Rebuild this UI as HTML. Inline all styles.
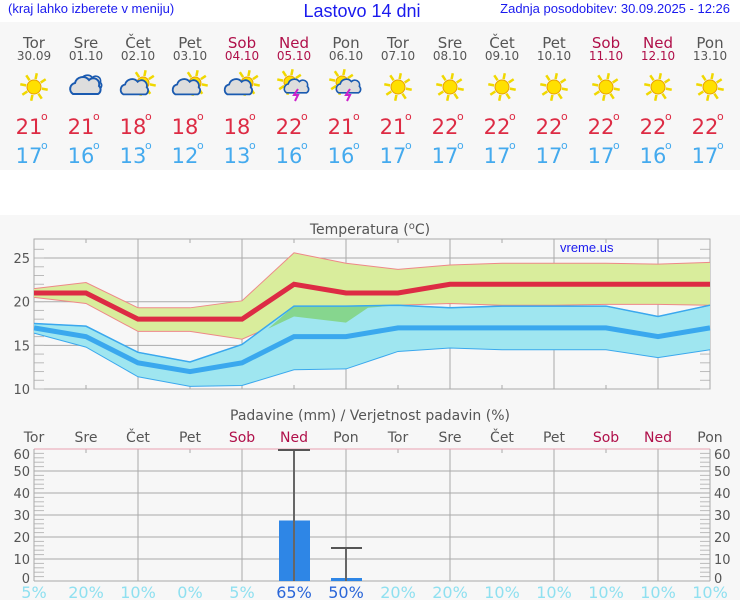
<!DOCTYPE html>
<html><head><meta charset="utf-8"><style>
body{margin:0;width:740px;height:600px;background:#f7f7f7;overflow:hidden;font-family:"DejaVu Sans","Liberation Sans",sans-serif}
svg{position:absolute;left:0;top:0}
</style></head><body>
<svg id="s" width="740" height="600" xmlns="http://www.w3.org/2000/svg"></svg>
<script>
const s=document.getElementById('s');let h='';
h+='<rect x="0" y="0" width="740" height="22" fill="#fff"/><rect x="0" y="170" width="740" height="45" fill="#fff"/>';
h+='<text x="8" y="13" font-size="13" fill="#1a1aee" font-family="Liberation Sans">(kraj lahko izberete v meniju)</text>';
h+='<text x="362" y="17" font-size="18" fill="#1a1aee" text-anchor="middle" font-family="Liberation Sans">Lastovo 14 dni</text>';
h+='<text x="730" y="13" font-size="13" fill="#1a1aee" text-anchor="end" font-family="Liberation Sans">Zadnja posodobitev: 30.09.2025 - 12:26</text>';
const days=['Tor','Sre','Čet','Pet','Sob','Ned','Pon','Tor','Sre','Čet','Pet','Sob','Ned','Pon'];
const dates=['30.09','01.10','02.10','03.10','04.10','05.10','06.10','07.10','08.10','09.10','10.10','11.10','12.10','13.10'];
const mx=[21,21,18,18,18,22,21,21,22,22,22,22,22,22],mn=[17,16,13,12,13,16,16,17,17,17,17,17,16,17];
const ic=['s','c','pc','ps','pc','t','t','s','s','s','s','s','s','s'];
const X=i=>34+i*52;
function sun(cx,cy,r){let o='';for(let k=0;k<8;k++){const a=k*Math.PI/4+0.2;o+=`<line x1="${cx+Math.cos(a)*(r+1)}" y1="${cy+Math.sin(a)*(r+1)}" x2="${cx+Math.cos(a)*(r+7)}" y2="${cy+Math.sin(a)*(r+7)}" stroke="#f0d800" stroke-width="2.5"/>`;}return o+`<circle cx="${cx}" cy="${cy}" r="${r}" fill="#ffe000" stroke="#e8a000" stroke-width="1"/>`;}
function cloud(cx,cy,sc){return `<g transform="translate(${cx},${cy}) scale(${sc})"><path d="M-13,6 a6,6 0 0 1 2,-11 a8,8 0 0 1 14,-3 a6,6 0 0 1 10,6 a5,5 0 0 1 -1,8 z" fill="#ddd" stroke="#1a5ab0" stroke-width="2"/></g>`;}
for(let i=0;i<14;i++){const x=X(i);const col=(i==4||i==5||i==11||i==12)?'#b0104a':'#555';
h+=`<text x="${x}" y="48" font-size="15" fill="${col}" text-anchor="middle">${days[i]}</text>`;
h+=`<text x="${x}" y="60" font-size="12" fill="${col}" text-anchor="middle">${dates[i]}</text>`;
const t=ic[i],cy=87;
if(t=='s')h+=sun(x,cy,7);
if(t=='c'){h+=cloud(x+4,cy-3,0.8)+cloud(x,cy+1,1);}
if(t=='pc'||t=='ps'){h+=sun(x+5,cy-4,6)+cloud(x-3,cy+2,0.9);}
if(t=='t'){h+=sun(x-4,cy-5,6)+cloud(x+3,cy+1,0.8)+`<path d="M${x+4},${cy+2} l-4,6 h4 l-3,6" stroke="#cc22cc" stroke-width="2" fill="none"/>`;}
h+=`<text x="${x-5}" y="134" font-size="21" fill="#dd2b44" text-anchor="middle">${mx[i]}</text><text x="${x+7}" y="120" font-size="11" fill="#dd2b44">o</text>`;
h+=`<text x="${x-5}" y="163" font-size="21" fill="#44aaee" text-anchor="middle">${mn[i]}</text><text x="${x+7}" y="149" font-size="11" fill="#44aaee">o</text>`;}
h+='<text x="370" y="234" font-size="14" fill="#555" text-anchor="middle">Temperatura (<tspan dy="-5" font-size="10">o</tspan><tspan dy="5">C)</tspan></text>';
const Y=T=>301.7-(T-20)*8.73;
h+='<rect x="34" y="239" width="676" height="150" fill="none" stroke="#aaa"/>';
[10,15,20,25].forEach(t=>{h+=`<line x1="34" x2="710" y1="${Y(t)}" y2="${Y(t)}" stroke="#aaa"/><text x="30" y="${Y(t)+5}" font-size="13" fill="#555" text-anchor="end">${t}</text>`;});
for(let t=10;t<=26;t++){h+=`<line x1="34" x2="44" y1="${Y(t)}" y2="${Y(t)}" stroke="#bbb"/><line x1="700" x2="710" y1="${Y(t)}" y2="${Y(t)}" stroke="#bbb"/>`;}
for(let i=0;i<14;i++){if(i%2==0||i==13)h+=`<line x1="${X(i)}" x2="${X(i)}" y1="239" y2="389" stroke="#aaa"/>`;else h+=`<line x1="${X(i)}" x2="${X(i)}" y1="239" y2="243" stroke="#aaa"/><line x1="${X(i)}" x2="${X(i)}" y1="385" y2="389" stroke="#aaa"/>`;}
const mU=[21.5,22.2,19.3,19.3,20.1,25.6,24.4,23.7,24.2,24.4,24.4,24.4,24.3,24.5],mL=[20.5,19.8,16.6,16.6,15.7,18.3,17.6,19.6,19.8,19.6,19.6,19.7,19.7,19.6];
const nU=[17.5,17.2,14.2,13.1,15.1,19.5,19.5,19.6,19.3,19.5,19.5,19.5,18.3,19.6],nL=[16.4,14.8,11.4,10.3,10.4,12.2,12.3,14.3,14.7,14.5,14.5,14.5,13.6,14.5];
const band=(U,L,f,st)=>{let p=U.map((v,i)=>`${X(i)},${Y(v)}`).join(' ')+' '+L.map((v,i)=>`${X(i)},${Y(v)}`).reverse().join(' ');return `<polygon points="${p}" fill="${f}"/><polyline points="${U.map((v,i)=>X(i)+','+Y(v)).join(' ')}" fill="none" stroke="${st}" stroke-width="1"/><polyline points="${L.map((v,i)=>X(i)+','+Y(v)).join(' ')}" fill="none" stroke="${st}" stroke-width="1"/>`;};
h+=band(mU,mL,'#d9ed9c','#e88');
h+=band(nU,nL,'#9fe6f0','#3aa8ee');
h+=`<polygon points="${X(4)+26},${Y(16.9)} ${X(5)},${Y(19.5)} ${X(6)},${Y(19.5)} ${X(7)},${Y(19.6)} ${X(7)-30},${Y(19.3)} ${X(6)},${Y(17.6)} ${X(5)},${Y(18.3)}" fill="#86d68e"/>`;
h+=`<polyline points="${nU.map((v,i)=>X(i)+','+Y(v)).join(' ')}" fill="none" stroke="#3aa8ee" stroke-width="1.5"/>`;
h+=`<polyline points="${mx.map((v,i)=>X(i)+','+Y(v)).join(' ')}" fill="none" stroke="#dd2b44" stroke-width="5"/>`;
h+=`<polyline points="${mn.map((v,i)=>X(i)+','+Y(v)).join(' ')}" fill="none" stroke="#3aa8ee" stroke-width="5"/>`;
h+='<text x="560" y="252" font-size="13" fill="#1a1aee" font-family="Liberation Sans">vreme.us</text>';
h+='<text x="370" y="420" font-size="14" fill="#555" text-anchor="middle">Padavine (mm) / Verjetnost padavin (%)</text>';
const P=v=>581-v*2.2;
for(let i=0;i<14;i++){const col=(i==4||i==5||i==11||i==12)?'#b0104a':'#555';h+=`<text x="${X(i)}" y="442" font-size="14" fill="${col}" text-anchor="middle">${days[i]}</text>`;
h+=`<line x1="${X(i)}" x2="${X(i)}" y1="449" y2="${i%2==0||i==13?581:453}" stroke="#aaa"/>`;}
for(let v=0;v<=60;v+=2){h+=`<line x1="34" x2="44" y1="${P(v)}" y2="${P(v)}" stroke="#bbb"/><line x1="700" x2="710" y1="${P(v)}" y2="${P(v)}" stroke="#bbb"/>`;}
[0,10,20,30,40,50,60].forEach(v=>{if(v>0&&v<60)h+=`<line x1="34" x2="710" y1="${P(v)}" y2="${P(v)}" stroke="#aaa"/>`;const yy=P(v)+(v==0?2:(v==60?10:5));h+=`<text x="30" y="${yy}" font-size="13" fill="#555" text-anchor="end">${v}</text><text x="714" y="${yy}" font-size="13" fill="#555">${v}</text>`;});
h+='<line x1="34" x2="710" y1="449" y2="449" stroke="#e8a0b0"/><line x1="34" x2="710" y1="581" y2="581" stroke="#aaa"/><line x1="34" x2="34" y1="449" y2="581" stroke="#aaa"/><line x1="710" x2="710" y1="449" y2="581" stroke="#aaa"/>';
h+=`<rect x="279" y="${P(27.5)}" width="31" height="${581-P(27.5)}" fill="#2e86e6"/><rect x="331" y="578" width="31" height="3" fill="#2e86e6"/>`;
h+='<line x1="294" x2="294" y1="450" y2="581" stroke="#666" stroke-width="2"/><line x1="278" x2="310" y1="450" y2="450" stroke="#555" stroke-width="2"/>';
h+='<line x1="346" x2="346" y1="548" y2="581" stroke="#666" stroke-width="2"/><line x1="331" x2="362" y1="548" y2="548" stroke="#555" stroke-width="2"/>';
const pc=['5%','20%','10%','0%','5%','65%','50%','20%','20%','10%','10%','10%','10%','10%'];
pc.forEach((p,i)=>{h+=`<text x="${X(i)}" y="598" font-size="16" fill="${i==5||i==6?'#2a66d8':'#8fe0f0'}" text-anchor="middle">${p}</text>`;});
s.innerHTML=h;
</script>
</body></html>
